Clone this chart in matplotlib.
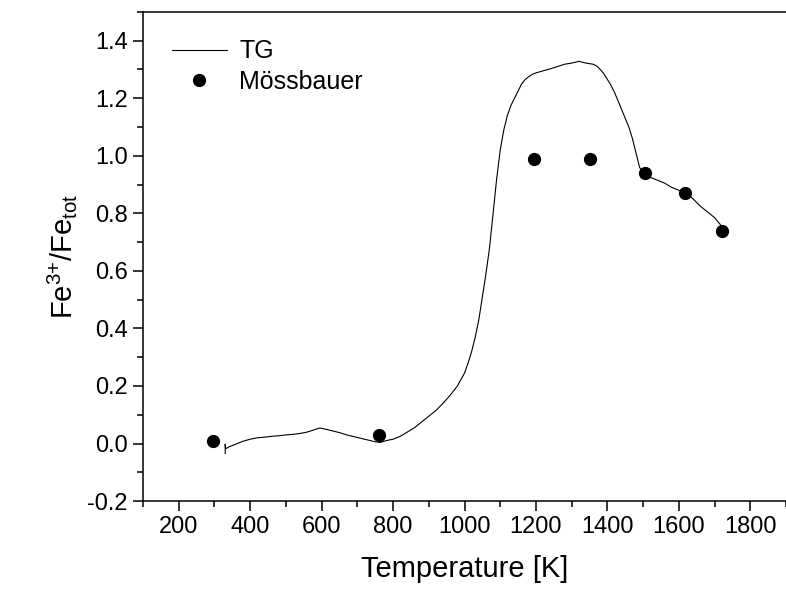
import matplotlib
matplotlib.use('Agg')
import matplotlib.pyplot as plt
from matplotlib.ticker import MultipleLocator

plt.rcParams['font.family'] = ['Liberation Sans', 'DejaVu Sans']
plt.rcParams['mathtext.default'] = 'regular'

# TG curve (temperature in K, Fe3+/Fe_tot)
tg_T = [330, 330, 331, 340, 360, 380, 400, 420, 440, 460, 480, 500, 520, 540,
        560, 580, 595, 610, 630, 650, 670, 690, 710, 730, 750, 765, 780, 800,
        820, 840, 860, 880, 900, 920, 940, 960, 980, 1000, 1010, 1020, 1030,
        1040, 1050, 1060, 1070, 1080, 1090, 1100, 1110, 1120, 1130, 1140,
        1150, 1160, 1170, 1180, 1190, 1200, 1220, 1240, 1260, 1280, 1300,
        1320, 1340, 1360, 1370, 1380, 1390, 1400, 1410, 1420, 1430, 1440,
        1450, 1460, 1470, 1480, 1490, 1500, 1510, 1520, 1540, 1560, 1580,
        1600, 1620, 1640, 1660, 1680, 1700, 1720]
tg_val = [-0.035, -0.002, -0.018, -0.012, -0.002, 0.008, 0.015, 0.02, 0.022,
          0.025, 0.027, 0.03, 0.032, 0.035, 0.04, 0.048, 0.054, 0.05, 0.044,
          0.038, 0.03, 0.024, 0.018, 0.012, 0.006, 0.004, 0.01, 0.015, 0.025,
          0.04, 0.055, 0.075, 0.095, 0.115, 0.14, 0.168, 0.2, 0.245, 0.28,
          0.32, 0.37, 0.43, 0.51, 0.59, 0.68, 0.80, 0.92, 1.02, 1.09, 1.14,
          1.175, 1.2, 1.225, 1.25, 1.265, 1.275, 1.283, 1.288, 1.295, 1.302,
          1.31, 1.318, 1.322, 1.328, 1.322, 1.318, 1.312, 1.30, 1.285, 1.265,
          1.245, 1.22, 1.19, 1.16, 1.13, 1.1, 1.06, 1.01, 0.96, 0.94, 0.935,
          0.925, 0.915, 0.905, 0.89, 0.88, 0.87, 0.85, 0.825, 0.805, 0.785,
          0.755]

# Mossbauer points
mb_T = [295, 760, 1195, 1352, 1505, 1618, 1722]
mb_val = [0.01, 0.03, 0.99, 0.99, 0.94, 0.87, 0.74]

fig = plt.figure(figsize=(7.86, 5.93), dpi=100)
ax = fig.add_axes([0.182, 0.155, 0.818, 0.825])

ax.plot(tg_T, tg_val, color='black', lw=0.8, label='TG')
ax.plot(mb_T, mb_val, 'o', color='black', ms=8.5, label='Mössbauer')

ax.set_xlim(100, 1900)
ax.set_ylim(-0.2, 1.5)
ax.set_xticks(range(200, 1801, 200))
ax.xaxis.set_minor_locator(MultipleLocator(100))
ax.set_yticks([-0.2, 0.0, 0.2, 0.4, 0.6, 0.8, 1.0, 1.2, 1.4])
ax.set_yticklabels(['-0.2', '0.0', '0.2', '0.4', '0.6', '0.8', '1.0', '1.2', '1.4'])
ax.yaxis.set_minor_locator(MultipleLocator(0.1))

for s in ax.spines.values():
    s.set_linewidth(1.1)
ax.spines['right'].set_visible(False)
ax.tick_params(which='both', direction='out', labelsize=17, width=1.1,
               top=False, right=False)
ax.tick_params(which='major', length=7, pad=4)
ax.tick_params(which='minor', length=4)

ax.set_xlabel('Temperature [K]', fontsize=21, labelpad=12)
ax.set_ylabel('Fe$^{3{+}}$/Fe$_{tot}$', fontsize=21, labelpad=6)

ax.legend(loc='upper left', bbox_to_anchor=(0.01, 0.99), frameon=False,
          fontsize=18, handlelength=2.2, handletextpad=0.5, labelspacing=0.25)

fig.savefig('out.png', dpi=100)
